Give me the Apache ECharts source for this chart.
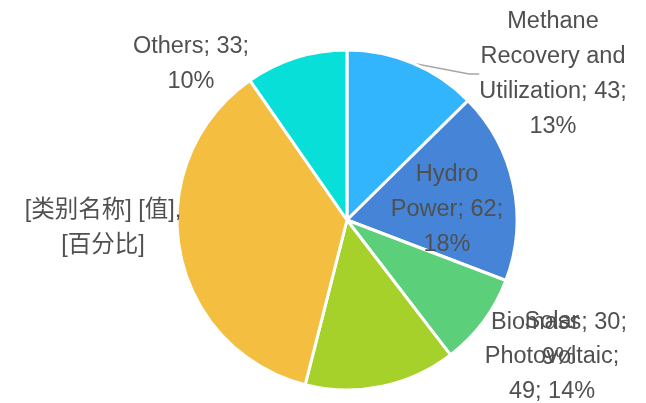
<!DOCTYPE html>
<html>
<head>
<meta charset="utf-8">
<script src="https://cdn.jsdelivr.net/npm/echarts@6/dist/echarts.min.js"></script>
<style>
  html, body { margin: 0; padding: 0; background: #fff; }
  #main { width: 646px; height: 403px; }
</style>
</head>
<body>
<div id="main"></div>
<script>
// 数据
var names = ['Methane Recovery and Utilization', 'Hydro Power', 'Biomass', 'Solar Photovoltaic', '[类别名称]', 'Others'];
var values = [43, 62, 30, 49, 124, 33];
var colors = ['#33b5fd', '#4584d6', '#5bcf79', '#a6d12b', '#f4be40', '#08dfd9'];
// 标签文字（按原图换行）
var labelTexts = [
    'Methane\nRecovery and\nUtilization; 43;\n13%',
    'Hydro\nPower; 62;\n18%',
    'Biomass; 30;\n9%',
    'Solar\nPhotovoltaic;\n49; 14%',
    '[类别名称] [值],\n[百分比]',
    'Others; 33;\n10%'
];

// 标签中心位置
var labelPos = [[553, 74], [447, 210], [559, 340], [552, 357], [103, 228], [191, 64]];

var myChart = echarts.init(document.getElementById('main'));
var data = [];
for (var i = 0; i < names.length; i++) {
    data.push({
        name: names[i],
        value: values[i],
        itemStyle: { color: colors[i] },
        label: { position: i == 1 ? 'inside' : 'outside' },
        labelLine: { show: i == 0 }
    });
}

var option = {
    animation: false,
    series: [{
        type: 'pie',
        center: [347, 220],
        radius: 170,
        startAngle: 90,
        clockwise: true,
        percentPrecision: 0,
        itemStyle: { borderColor: '#fff', borderWidth: 3 },
        label: {
            formatter: function (p) { return labelTexts[p.dataIndex]; },
            color: '#505050',
            fontFamily: 'Liberation Sans, Arial, Noto Sans CJK SC, sans-serif',
            fontSize: 23.5,
            lineHeight: 35,
            align: 'center',
            overflow: 'none'
        },
        labelLine: {
            lineStyle: { color: '#a6a6a6', width: 1.5 },
            length: 10,
            length2: 10
        },
        labelLayout: function (p) {
            var pos = labelPos[p.dataIndex];
            return { x: pos[0], y: pos[1], align: 'center', verticalAlign: 'middle', hideOverlap: false, moveOverlap: false };
        },
        data: data
    }]
};
myChart.setOption(option);
</script>
</body>
</html>
